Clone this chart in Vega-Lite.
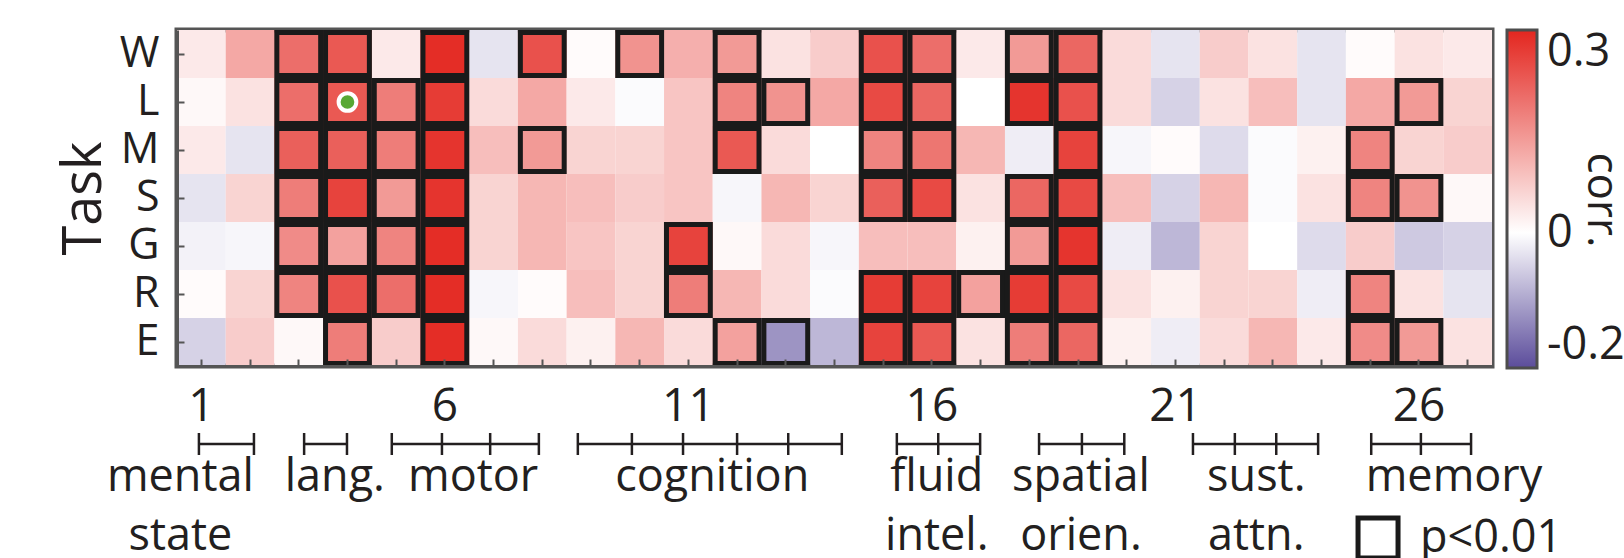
{
  "$schema": "https://vega.github.io/schema/vega-lite/v6.json",
  "padding": {"left": 54, "top": 27, "right": 0, "bottom": 0},
  "bounds": "flush",
  "spacing": 78,
  "config": {
    "font": "Open Sans",
    "view": {"stroke": null},
    "axis": {"labelFont": "Open Sans", "titleFont": "Open Sans", "labelColor": "#231f20", "titleColor": "#231f20"},
    "legend": {"labelFont": "Open Sans", "titleFont": "Open Sans", "labelColor": "#231f20", "titleColor": "#231f20"}
  },
  "datasets": {
    "cells": [
      {"t":"W","c":1,"r":0.03,"s":0},{"t":"W","c":2,"r":0.12,"s":0},{"t":"W","c":3,"r":0.2,"s":1},{"t":"W","c":4,"r":0.23,"s":1},{"t":"W","c":5,"r":0.03,"s":0},{"t":"W","c":6,"r":0.29,"s":1},{"t":"W","c":7,"r":-0.03,"s":0},{"t":"W","c":8,"r":0.24,"s":1},{"t":"W","c":9,"r":0.005,"s":0},{"t":"W","c":10,"r":0.15,"s":1},{"t":"W","c":11,"r":0.11,"s":0},{"t":"W","c":12,"r":0.14,"s":1},{"t":"W","c":13,"r":0.04,"s":0},{"t":"W","c":14,"r":0.07,"s":0},{"t":"W","c":15,"r":0.24,"s":1},{"t":"W","c":16,"r":0.2,"s":1},{"t":"W","c":17,"r":0.03,"s":0},{"t":"W","c":18,"r":0.14,"s":1},{"t":"W","c":19,"r":0.21,"s":1},{"t":"W","c":20,"r":0.05,"s":0},{"t":"W","c":21,"r":-0.03,"s":0},{"t":"W","c":22,"r":0.07,"s":0},{"t":"W","c":23,"r":0.04,"s":0},{"t":"W","c":24,"r":-0.03,"s":0},{"t":"W","c":25,"r":0.005,"s":0},{"t":"W","c":26,"r":0.04,"s":0},{"t":"W","c":27,"r":0.03,"s":0},
      {"t":"L","c":1,"r":0.01,"s":0},{"t":"L","c":2,"r":0.04,"s":0},{"t":"L","c":3,"r":0.2,"s":1},{"t":"L","c":4,"r":0.23,"s":1,"dot":1},{"t":"L","c":5,"r":0.18,"s":1},{"t":"L","c":6,"r":0.27,"s":1},{"t":"L","c":7,"r":0.05,"s":0},{"t":"L","c":8,"r":0.12,"s":0},{"t":"L","c":9,"r":0.03,"s":0},{"t":"L","c":10,"r":-0.005,"s":0},{"t":"L","c":11,"r":0.08,"s":0},{"t":"L","c":12,"r":0.17,"s":1},{"t":"L","c":13,"r":0.15,"s":1},{"t":"L","c":14,"r":0.12,"s":0},{"t":"L","c":15,"r":0.25,"s":1},{"t":"L","c":16,"r":0.21,"s":1},{"t":"L","c":17,"r":0.0,"s":0},{"t":"L","c":18,"r":0.28,"s":1},{"t":"L","c":19,"r":0.24,"s":1},{"t":"L","c":20,"r":0.05,"s":0},{"t":"L","c":21,"r":-0.05,"s":0},{"t":"L","c":22,"r":0.04,"s":0},{"t":"L","c":23,"r":0.09,"s":0},{"t":"L","c":24,"r":-0.03,"s":0},{"t":"L","c":25,"r":0.12,"s":0},{"t":"L","c":26,"r":0.14,"s":1},{"t":"L","c":27,"r":0.06,"s":0},
      {"t":"M","c":1,"r":0.03,"s":0},{"t":"M","c":2,"r":-0.03,"s":0},{"t":"M","c":3,"r":0.22,"s":1},{"t":"M","c":4,"r":0.22,"s":1},{"t":"M","c":5,"r":0.18,"s":1},{"t":"M","c":6,"r":0.28,"s":1},{"t":"M","c":7,"r":0.09,"s":0},{"t":"M","c":8,"r":0.14,"s":1},{"t":"M","c":9,"r":0.06,"s":0},{"t":"M","c":10,"r":0.06,"s":0},{"t":"M","c":11,"r":0.08,"s":0},{"t":"M","c":12,"r":0.23,"s":1},{"t":"M","c":13,"r":0.05,"s":0},{"t":"M","c":14,"r":0.0,"s":0},{"t":"M","c":15,"r":0.17,"s":1},{"t":"M","c":16,"r":0.19,"s":1},{"t":"M","c":17,"r":0.1,"s":0},{"t":"M","c":18,"r":-0.02,"s":0},{"t":"M","c":19,"r":0.26,"s":1},{"t":"M","c":20,"r":-0.01,"s":0},{"t":"M","c":21,"r":0.005,"s":0},{"t":"M","c":22,"r":-0.04,"s":0},{"t":"M","c":23,"r":-0.005,"s":0},{"t":"M","c":24,"r":0.02,"s":0},{"t":"M","c":25,"r":0.17,"s":1},{"t":"M","c":26,"r":0.06,"s":0},{"t":"M","c":27,"r":0.07,"s":0},
      {"t":"S","c":1,"r":-0.03,"s":0},{"t":"S","c":2,"r":0.06,"s":0},{"t":"S","c":3,"r":0.18,"s":1},{"t":"S","c":4,"r":0.26,"s":1},{"t":"S","c":5,"r":0.14,"s":1},{"t":"S","c":6,"r":0.28,"s":1},{"t":"S","c":7,"r":0.06,"s":0},{"t":"S","c":8,"r":0.1,"s":0},{"t":"S","c":9,"r":0.09,"s":0},{"t":"S","c":10,"r":0.07,"s":0},{"t":"S","c":11,"r":0.08,"s":0},{"t":"S","c":12,"r":-0.01,"s":0},{"t":"S","c":13,"r":0.1,"s":0},{"t":"S","c":14,"r":0.06,"s":0},{"t":"S","c":15,"r":0.22,"s":1},{"t":"S","c":16,"r":0.25,"s":1},{"t":"S","c":17,"r":0.04,"s":0},{"t":"S","c":18,"r":0.21,"s":1},{"t":"S","c":19,"r":0.25,"s":1},{"t":"S","c":20,"r":0.09,"s":0},{"t":"S","c":21,"r":-0.05,"s":0},{"t":"S","c":22,"r":0.1,"s":0},{"t":"S","c":23,"r":-0.005,"s":0},{"t":"S","c":24,"r":0.04,"s":0},{"t":"S","c":25,"r":0.17,"s":1},{"t":"S","c":26,"r":0.15,"s":1},{"t":"S","c":27,"r":0.01,"s":0},
      {"t":"G","c":1,"r":-0.015,"s":0},{"t":"G","c":2,"r":-0.01,"s":0},{"t":"G","c":3,"r":0.16,"s":1},{"t":"G","c":4,"r":0.13,"s":1},{"t":"G","c":5,"r":0.17,"s":1},{"t":"G","c":6,"r":0.29,"s":1},{"t":"G","c":7,"r":0.06,"s":0},{"t":"G","c":8,"r":0.1,"s":0},{"t":"G","c":9,"r":0.08,"s":0},{"t":"G","c":10,"r":0.06,"s":0},{"t":"G","c":11,"r":0.26,"s":1},{"t":"G","c":12,"r":0.01,"s":0},{"t":"G","c":13,"r":0.05,"s":0},{"t":"G","c":14,"r":-0.01,"s":0},{"t":"G","c":15,"r":0.09,"s":0},{"t":"G","c":16,"r":0.09,"s":0},{"t":"G","c":17,"r":0.02,"s":0},{"t":"G","c":18,"r":0.14,"s":1},{"t":"G","c":19,"r":0.28,"s":1},{"t":"G","c":20,"r":-0.02,"s":0},{"t":"G","c":21,"r":-0.08,"s":0},{"t":"G","c":22,"r":0.06,"s":0},{"t":"G","c":23,"r":0.0,"s":0},{"t":"G","c":24,"r":-0.04,"s":0},{"t":"G","c":25,"r":0.07,"s":0},{"t":"G","c":26,"r":-0.06,"s":0},{"t":"G","c":27,"r":-0.05,"s":0},
      {"t":"R","c":1,"r":0.005,"s":0},{"t":"R","c":2,"r":0.06,"s":0},{"t":"R","c":3,"r":0.17,"s":1},{"t":"R","c":4,"r":0.24,"s":1},{"t":"R","c":5,"r":0.2,"s":1},{"t":"R","c":6,"r":0.29,"s":1},{"t":"R","c":7,"r":-0.01,"s":0},{"t":"R","c":8,"r":0.005,"s":0},{"t":"R","c":9,"r":0.09,"s":0},{"t":"R","c":10,"r":0.06,"s":0},{"t":"R","c":11,"r":0.18,"s":1},{"t":"R","c":12,"r":0.1,"s":0},{"t":"R","c":13,"r":0.05,"s":0},{"t":"R","c":14,"r":-0.005,"s":0},{"t":"R","c":15,"r":0.27,"s":1},{"t":"R","c":16,"r":0.26,"s":1},{"t":"R","c":17,"r":0.13,"s":1},{"t":"R","c":18,"r":0.27,"s":1},{"t":"R","c":19,"r":0.25,"s":1},{"t":"R","c":20,"r":0.04,"s":0},{"t":"R","c":21,"r":0.02,"s":0},{"t":"R","c":22,"r":0.06,"s":0},{"t":"R","c":23,"r":0.06,"s":0},{"t":"R","c":24,"r":-0.02,"s":0},{"t":"R","c":25,"r":0.17,"s":1},{"t":"R","c":26,"r":0.04,"s":0},{"t":"R","c":27,"r":-0.03,"s":0},
      {"t":"E","c":1,"r":-0.05,"s":0},{"t":"E","c":2,"r":0.07,"s":0},{"t":"E","c":3,"r":0.01,"s":0},{"t":"E","c":4,"r":0.18,"s":1},{"t":"E","c":5,"r":0.07,"s":0},{"t":"E","c":6,"r":0.29,"s":1},{"t":"E","c":7,"r":0.01,"s":0},{"t":"E","c":8,"r":0.05,"s":0},{"t":"E","c":9,"r":0.02,"s":0},{"t":"E","c":10,"r":0.1,"s":0},{"t":"E","c":11,"r":0.05,"s":0},{"t":"E","c":12,"r":0.13,"s":1},{"t":"E","c":13,"r":-0.12,"s":1},{"t":"E","c":14,"r":-0.08,"s":0},{"t":"E","c":15,"r":0.26,"s":1},{"t":"E","c":16,"r":0.23,"s":1},{"t":"E","c":17,"r":0.04,"s":0},{"t":"E","c":18,"r":0.18,"s":1},{"t":"E","c":19,"r":0.21,"s":1},{"t":"E","c":20,"r":0.02,"s":0},{"t":"E","c":21,"r":-0.02,"s":0},{"t":"E","c":22,"r":0.05,"s":0},{"t":"E","c":23,"r":0.1,"s":0},{"t":"E","c":24,"r":0.03,"s":0},{"t":"E","c":25,"r":0.16,"s":1},{"t":"E","c":26,"r":0.14,"s":1},{"t":"E","c":27,"r":0.04,"s":0}
    ],
    "ticks": [
      {"g":"mental","pos":0.95},{"g":"mental","pos":2.08},
      {"g":"lang","pos":3.11},{"g":"lang","pos":3.99},
      {"g":"motor","pos":4.91},{"g":"motor","pos":5.94},{"g":"motor","pos":6.93},{"g":"motor","pos":7.93},
      {"g":"cog","pos":8.73},{"g":"cog","pos":9.84},{"g":"cog","pos":10.89},{"g":"cog","pos":12.0},{"g":"cog","pos":13.05},{"g":"cog","pos":14.15},
      {"g":"fluid","pos":15.28},{"g":"fluid","pos":16.13},{"g":"fluid","pos":16.99},
      {"g":"spatial","pos":18.2},{"g":"spatial","pos":19.08},{"g":"spatial","pos":19.95},
      {"g":"sust","pos":21.36},{"g":"sust","pos":22.22},{"g":"sust","pos":23.07},{"g":"sust","pos":23.93},
      {"g":"memory","pos":25.02},{"g":"memory","pos":26.04},{"g":"memory","pos":27.07}
    ],
    "labels": [
      {"text":"mental\nstate","pos":0.57},
      {"text":"lang.","pos":3.74},
      {"text":"motor","pos":6.58},
      {"text":"cognition","pos":11.49},
      {"text":"fluid\nintel.","pos":16.1},
      {"text":"spatial\norien.","pos":19.06},
      {"text":"sust.\nattn.","pos":22.66},
      {"text":"memory","pos":26.72}
    ],
    "sigkey": [{"box":25.16,"tpos":26.02,"text":"p<0.01"}]
  },
  "resolve": {
    "scale": {"color": "independent", "x": "independent", "y": "independent"},
    "legend": {"color": "independent"}
  },
  "vconcat": [
    {
      "width": 1315,
      "height": 336,
      "view": {"stroke": "#555555", "strokeWidth": 5},
      "data": {"name": "cells"},
      "encoding": {
        "x": {"field": "c", "type": "ordinal", "scale": {"paddingInner": 0, "paddingOuter": 0},
          "axis": {"orient": "bottom", "title": null, "labelAngle": 0, "labelFontSize": 46,
            "labelExpr": "indexof([1,6,11,16,21,26], datum.value) >= 0 ? datum.label : ''",
            "labelOverlap": false, "labelFlush": false, "labelBound": false,
            "labelPadding": 25, "ticks": true, "tickSize": -7, "tickWidth": 2, "tickColor": "#555555",
            "domain": true, "domainColor": "#555555", "domainWidth": 3, "grid": false, "zindex": 1}},
        "y": {"field": "t", "type": "nominal", "sort": ["W","L","M","S","G","R","E"], "scale": {"paddingInner": 0, "paddingOuter": 0},
          "axis": {"orient": "left", "title": "Task", "titleFontSize": 54, "titleFontWeight": "normal", "titlePadding": 8,
            "labelFontSize": 43, "labelPadding": 25, "ticks": true, "tickSize": -7, "tickWidth": 2, "tickColor": "#555555",
            "domain": true, "domainColor": "#555555", "domainWidth": 3, "grid": false, "zindex": 1}}
      },
      "layer": [
        {
          "mark": {"type": "rect"},
          "encoding": {
            "color": {"field": "r", "type": "quantitative",
              "scale": {"domain": [-0.2, 0, 0.3], "range": ["#5b4c9b", "#ffffff", "#e3261f"], "interpolate": "rgb"},
              "legend": {"values": [-0.2, 0, 0.3], "direction": "vertical", "orient": "right", "offset": 15,
                "gradientLength": 338, "gradientThickness": 30, "gradientStrokeColor": "#4d4d4d", "gradientStrokeWidth": 3,
                "labelFontSize": 45, "labelOffset": 10,
                "labelExpr": "datum.value < 0 ? '-' + format(-datum.value, '.1f') : (datum.value == 0 ? '0' : format(datum.value, '.1f'))",
                "title": "corr.", "titleOrient": "right", "titleAngle": 90, "titleFontSize": 44, "titleFontWeight": "normal",
                "titleAnchor": "middle", "titlePadding": -46}}
          }
        },
        {
          "transform": [{"filter": "datum.s == 1"}],
          "mark": {"type": "rect", "fill": "white", "fillOpacity": 0, "stroke": "#1a1a1a", "strokeWidth": 5, "width": {"band": 0.9}, "height": {"band": 0.9}}
        },
        {
          "transform": [{"filter": "datum.dot == 1"}],
          "mark": {"type": "point", "filled": true, "fill": "#58a834", "stroke": "white", "strokeWidth": 4, "size": 314, "opacity": 1}
        }
      ]
    },
    {
      "width": 1315,
      "height": 94,
      "layer": [
        {
          "data": {"name": "ticks"},
          "mark": {"type": "rule", "stroke": "#231f20", "strokeWidth": 2.5},
          "encoding": {
            "x": {"aggregate": "min", "field": "pos", "type": "quantitative", "scale": {"domain": [0.5, 27.5], "nice": false, "zero": false}, "axis": null},
            "x2": {"aggregate": "max", "field": "pos"},
            "y": {"datum": 0, "type": "quantitative", "scale": {"domain": [0, 2], "reverse": true, "nice": false, "zero": false}, "axis": null},
            "detail": {"field": "g", "type": "nominal"}
          }
        },
        {
          "data": {"name": "ticks"},
          "mark": {"type": "tick", "orient": "vertical", "size": 22, "thickness": 2.5, "color": "#231f20", "opacity": 1},
          "encoding": {
            "x": {"field": "pos", "type": "quantitative"},
            "y": {"datum": 0, "type": "quantitative"}
          }
        },
        {
          "data": {"name": "labels"},
          "mark": {"type": "text", "fontSize": 45, "baseline": "alphabetic", "align": "center", "lineBreak": "\n", "lineHeight": 59, "color": "#231f20"},
          "encoding": {
            "x": {"field": "pos", "type": "quantitative"},
            "y": {"datum": 1, "type": "quantitative"},
            "text": {"field": "text", "type": "nominal"}
          }
        },
        {
          "data": {"name": "sigkey"},
          "mark": {"type": "point", "shape": "square", "size": 1600, "filled": false, "stroke": "#1a1a1a", "strokeWidth": 5, "opacity": 1},
          "encoding": {
            "x": {"field": "box", "type": "quantitative"},
            "y": {"datum": 2, "type": "quantitative"}
          }
        },
        {
          "data": {"name": "sigkey"},
          "mark": {"type": "text", "fontSize": 45, "baseline": "middle", "align": "left", "color": "#231f20"},
          "encoding": {
            "x": {"field": "tpos", "type": "quantitative"},
            "y": {"datum": 2, "type": "quantitative"},
            "text": {"field": "text", "type": "nominal"}
          }
        }
      ]
    }
  ]
}
